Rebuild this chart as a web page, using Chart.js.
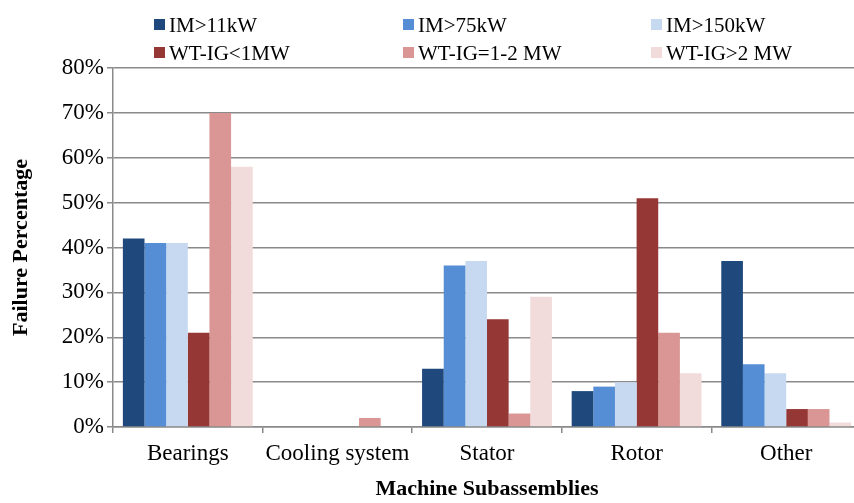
<!DOCTYPE html>
<html>
<head>
<meta charset="utf-8">
<script src="https://cdn.jsdelivr.net/npm/chart.js@4"></script>
<style>
  html, body { margin: 0; padding: 0; overflow: hidden; background: #fff; }
  #wrap { width: 866px; height: 503px; position: relative; }
</style>
</head>
<body>
<div id="wrap"><canvas id="failChart"></canvas></div>
<script>
// Failure share per machine subassembly
const categories = ['Bearings', 'Cooling system', 'Stator', 'Rotor', 'Other'];
const seriesNames = ['IM>11kW', 'IM>75kW', 'IM>150kW', 'WT-IG<1MW', 'WT-IG=1-2 MW', 'WT-IG>2 MW'];
const im11kW   = [42, 0, 13, 8, 37];
const im75kW   = [41, 0, 36, 9, 14];
const im150kW  = [41, 0, 37, 10, 12];
const wtUnder1 = [21, 0, 24, 51, 4];
const wt1to2   = [70, 2, 3, 21, 4];
const wtOver2  = [58, 0, 29, 12, 1];
const yTicks = [0, 10, 20, 30, 40, 50, 60, 70, 80];

const colors = ['#1f497d', '#558ed5', '#c6d9f1', '#953735', '#d99694', '#f2dcdb'];
const seriesData = [im11kW, im75kW, im150kW, wtUnder1, wt1to2, wtOver2];
const FONT = "'Liberation Serif', serif";
const GRID = '#8a8a8a';

// legend drawn as a 3 x 2 grid above the plot
const gridLegend = {
  id: 'gridLegend',
  afterDraw(chart) {
    const ctx = chart.ctx;
    const colX = [154, 403, 651];
    const rowY = [24, 52];
    ctx.save();
    ctx.font = '21px ' + FONT;
    ctx.textBaseline = 'middle';
    ctx.textAlign = 'left';
    chart.data.datasets.forEach((ds, i) => {
      const x = colX[i % 3];
      const y = rowY[Math.floor(i / 3)];
      ctx.fillStyle = ds.backgroundColor;
      ctx.fillRect(x, y - 5, 11, 11);
      ctx.fillStyle = '#000';
      ctx.fillText(ds.label, x + 15, y + 2);
    });
    ctx.restore();
  }
};

new Chart(document.getElementById('failChart'), {
  type: 'bar',
  data: {
    labels: categories,
    datasets: seriesNames.map((name, i) => ({
      label: name,
      data: seriesData[i],
      backgroundColor: colors[i],
      borderWidth: 0,
      categoryPercentage: 0.868,
      barPercentage: 1
    }))
  },
  options: {
    responsive: true,
    maintainAspectRatio: false,
    animation: false,
    layout: { padding: { top: 68, right: 5, left: 0, bottom: 0 } },
    plugins: {
      legend: { display: false },
      tooltip: { enabled: false }
    },
    scales: {
      x: {
        grid: {
          offset: true,
          drawOnChartArea: false,
          drawTicks: true,
          tickLength: 6,
          color: GRID,
          lineWidth: 1.5
        },
        border: { color: GRID, width: 1.5 },
        ticks: {
          color: '#000',
          font: { family: FONT, size: 23 },
          padding: 7,
          maxRotation: 0
        },
        title: {
          display: true,
          text: 'Machine Subassemblies',
          color: '#000',
          font: { family: FONT, size: 22, weight: 'bold' },
          padding: { top: 0, bottom: 0 }
        },
        afterFit(scale) { scale.height = 76; }
      },
      y: {
        min: 0,
        max: 80,
        afterBuildTicks(scale) { scale.ticks = yTicks.map(v => ({ value: v })); },
        grid: {
          drawTicks: true,
          tickLength: 6,
          color: GRID,
          lineWidth: 1.5
        },
        border: { color: GRID, width: 1.5 },
        ticks: {
          color: '#000',
          font: { family: FONT, size: 23 },
          padding: 3,
          callback: v => v + '%'
        },
        title: {
          display: true,
          text: 'Failure Percentage',
          color: '#000',
          font: { family: FONT, size: 22, weight: 'bold' },
          padding: { top: 8, bottom: 0 }
        },
        afterFit(scale) { scale.width = 113; }
      }
    }
  },
  plugins: [gridLegend]
});
</script>
</body>
</html>
